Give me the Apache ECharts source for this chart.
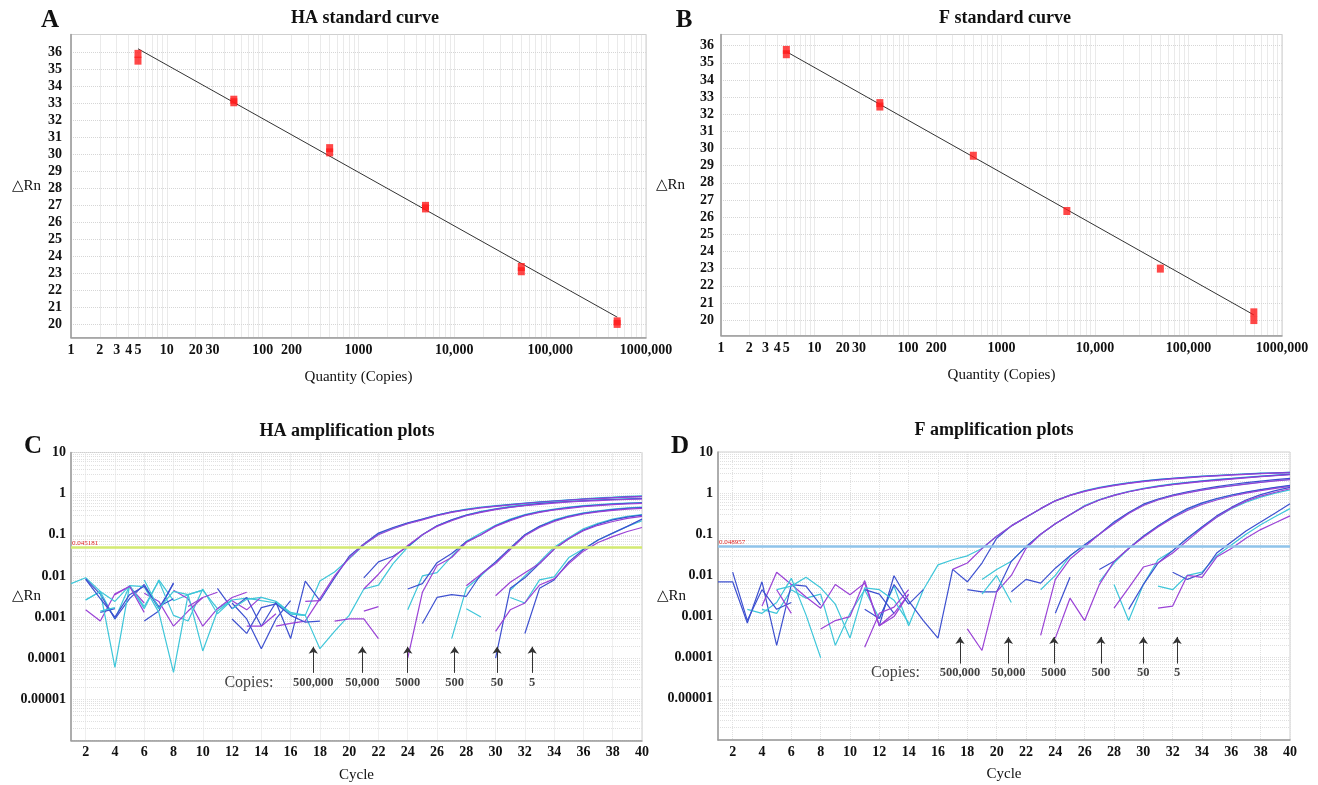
<!DOCTYPE html>
<html><head><meta charset="utf-8">
<script src="https://cdn.jsdelivr.net/npm/echarts@6/dist/echarts.min.js"></script>
<style>html,body{margin:0;padding:0;background:#fff}#c{width:1318px;height:785px}</style>
</head><body><div id="c"></div>
<script>
const _ = null;
// ---- Panel A: HA standard curve ----
const haQty = [5,5,50,50,500,500,5000,5000,50000,50000,500000,500000];
const haCt  = [35.9,35.5,33.2,33.05,30.35,30.1,26.95,26.8,23.35,23.1,20.15,20.0];
const haFitQty = [5,500000];
const haFitCt  = [36.2,20.4];
// ---- Panel B: F standard curve ----
const fQty = [5,5,50,50,500,5000,50000,500000,500000];
const fCt  = [35.75,35.5,32.65,32.45,29.58,26.36,23.0,20.45,20.0];
const fFitQty = [5,500000];
const fFitCt  = [35.65,20.3];
// ---- tick labels ----
const ctTicks = [20,21,22,23,24,25,26,27,28,29,30,31,32,33,34,35,36];
const qtyLabels = [1,2,3,4,5,10,20,30,100,200,1000,10000,100000,1000000];
const cycles = [1,2,3,4,5,6,7,8,9,10,11,12,13,14,15,16,17,18,19,20,21,22,23,24,25,26,27,28,29,30,31,32,33,34,35,36,37,38,39,40];
const cycleLabels = [2,4,6,8,10,12,14,16,18,20,22,24,26,28,30,32,34,36,38,40];
const rnLabels = [10,1,0.1,0.01,0.001,0.0001,0.00001];
// ---- thresholds & annotations ----
const haThreshold = 0.045181;
const fThreshold = 0.048957;
const copyLabels = ['500,000','50,000','5000','500','50','5'];
const haArrowCycles = [17.55,20.9,24.0,27.2,30.1,32.5];
const fArrowCycles  = [17.5,20.8,23.9,27.1,30.0,32.3];

// ---- Panel C: HA amplification (cycles 1..40) ----
const haA1=[.0065,.009,.0042,.0009,.0058,.0016,.008,.0025,.0035,.0045, .0016,.0026,.0029,.0025,.0022,.0012,.0011,.0075,.0125,.026, .056,.105,.145,.19,.24,.30,.36,.42,.47,.51, .55,.59,.63,.67,.71,.75,.79,.82,.86,.89];
const haB1=[_,.0085,.0036,.0009,.0028,.0062,.0016,.0065,_,_, .005,.0016,.003,.0006,.0023,.0003,.0075,.0025,.009,.03, .06,.11,.15,.195,.24,.30,.36,.41,.46,.50, .54,.58,.62,.66,.70,.74,.77,.80,.83,.86];
const haC1=[_,.0015,.0008,.0037,.0055,.0022,_,.0045,.0028,.0006, .0016,.003,.004,_,.0006,.0007,.0008,.0028,.01,.027, .058,.1,.14,.185,.23,.29,.35,.40,.45,.49, .53,.57,.61,.65,.69,.73,.76,.79,.82,.85];
const haA2=[_,.0026,.0042,.0024,.0058,.0018,.0075,.0011,.0008,.0048, .0012,.0026,_,_,.0024,.0013,.0011,.00017,.00045,.0011, .0048,.006,.02,.05,.1,.165,.23,.30,.37,.43, .49,.54,.58,.62,.65,.68,.71,.73,.75,.77];
const haB2=[_,_,.0013,.0016,_,.0008,.0014,.0068,_,_, _,.0009,.0004,.0017,.0021,.0011,.00075,.0008,_,_, .009,.022,.03,.052,.1,.165,.23,.30,.36,.42, .47,.52,.57,.61,.64,.67,.70,.72,.74,.76];
const haC2=[_,_,_,.0035,_,.0038,.0024,.0006,.0014,.003, .004,_,.0006,.0006,.0012,_,.0024,.0025,_,_, .0048,.011,.028,.055,.1,.16,.22,.29,.35,.41, .46,.51,.55,.59,.63,.66,.68,.70,.72,.74];
const haA3=[_,.0026,.0042,.00006,.0058,.0055,.0013,.000045,.0035,.00015, .0014,.0026,_,_,_,_,_,_,_,_, _,_,_,.0015,.01,.012,.03,.07,.11,.17, .24,.31,.37,.42,.47,.51,.54,.57,.59,.61];
const haB3=[_,.0082,.0028,.001,.0035,.0056,.0018,.0028,_,_, _,.0022,.0009,.00017,.0009,.0025,_,_,_,_, _,_,_,.0048,.0065,.021,.035,.068,.1,.165, .23,.30,.36,.41,.46,.50,.53,.56,.58,.60];
const haC3=[_,_,_,.0035,.0056,.0013,_,_,.0018,.003, _,.0025,.0015,.0031,_,.0021,_,_,_,_, _,_,_,.0001,.004,.018,.028,.065,.1,.16, .22,.29,.35,.40,.44,.48,.51,.54,.56,.58];
const haA4=[_,_,.0014,.0017,_,.008,.0016,.0042,.0035,.0045, _,.0016,.0027,.003,.0024,.0012,.0011,_,_,_, _,_,_,_,_,_,.0003,.005,.01,.022, .045,.1,.16,.23,.29,.34,.38,.42,.45,.47];
const haB4=[_,_,_,_,_,_,_,_,_,_, _,_,_,_,_,_,_,_,_,_, _,_,_,_,.0007,.003,.0035,.0032,.011,.022, .048,.1,.16,.22,.28,.33,.37,.41,.44,.46];
const haC4=[_,_,_,_,_,_,_,_,_,_, _,_,_,_,_,_,_,_,.0008,.0009, .0009,.0003,_,_,_,_,_,.0058,.011,.02, .044,.095,.15,.21,.27,.32,.36,.39,.42,.44];
const haA5=[_,_,_,_,_,_,_,_,_,_, _,_,_,_,_,_,_,_,_,_, _,_,_,_,_,_,_,.0016,.001,_, .0045,.01,.022,.05,.085,.14,.19,.24,.28,.31];
const haB5=[_,_,_,_,_,_,_,_,_,_, _,_,_,_,_,_,_,_,_,_, _,_,_,_,_,_,_,_,_,.0001, .005,.009,.02,.045,.08,.13,.18,.23,.27,.30];
const haC5=[_,_,_,_,_,_,_,_,_,_, _,_,_,_,_,_,_,_,_,_, .0014,.0018,_,_,_,_,_,_,_,.0033, .007,.012,.02,.045,.08,.125,.17,.21,.25,.28];
const haA6=[_,_,_,_,_,_,_,_,_,_, _,_,_,_,_,_,_,_,_,_, _,_,_,_,_,_,_,_,_,_, .003,.0022,.008,.0095,.028,.045,.075,.11,.16,.22];
const haB6=[_,_,_,_,_,_,_,_,_,_, _,_,_,_,_,_,_,_,_,_, _,_,_,_,_,_,_,_,_,_, _,.0004,.005,.008,.022,.044,.075,.11,.16,.24];
const haC6=[_,_,_,_,_,_,_,_,_,_, _,_,_,_,_,_,_,_,_,_, _,_,_,_,_,_,_,_,_,.00045, .0015,.0022,.006,.0085,.02,.04,.065,.09,.12,.15];

// ---- Panel D: F amplification (cycles 1..40) ----
const fA1=[_,_,_,.0015,.0012,.0045,.0028,.0035,.0002,.0012, .0045,.0009,.0055,.0006,.0045,.018,.024,.03,.045,.09, .16,.26,.42,.66,.9,1.15,1.38,1.6,1.8,1.98, 2.15,2.3,2.45,2.6,2.72,2.84,2.95,3.05,3.12,3.2];
const fB1=[.007,.007,.0007,.007,.0002,.006,.0055,.0019,_,_, _,.0006,.0098,.0024,.0008,.0003,.014,.007,.02,.08, .16,.26,.42,.65,.88,1.12,1.35,1.56,1.76,1.95, 2.12,2.28,2.42,2.56,2.68,2.8,2.92,3.02,3.1,3.18];
const fC1=[_,_,_,.0018,.012,.006,.003,.0016,.006,.0034, .0065,.0006,.001,.0035,_,_,.014,.02,.045,.09, .16,.26,.42,.65,.88,1.1,1.32,1.52,1.72,1.9, 2.06,2.22,2.36,2.5,2.62,2.74,2.86,2.96,3.05,3.12];
const fA2=[_,_,.0015,.0012,.0022,.0085,.0011,.0001,_,_, _,_,_,_,_,_,_,_,.008,.014, .022,.05,.1,.18,.3,.5,.7,.9,1.1,1.3, 1.5,1.68,1.84,2.0,2.15,2.3,2.45,2.6,2.75,2.9];
const fB2=[_,.012,.0008,.0045,.0015,.0022,_,_,_,_, .0015,.0009,.006,.002,.0045,_,_,.0045,.004,.004, .022,.05,.1,.18,.3,.48,.68,.88,1.08,1.28, 1.46,1.64,1.8,1.96,2.1,2.25,2.4,2.55,2.7,2.85];
const fC2=[_,_,_,_,.0045,.0012,_,.0005,.0008,.001, .0075,.0006,.0012,.0035,_,_,_,.0005,.00015,.004, .01,.045,.1,.18,.3,.48,.68,.88,1.08,1.26, 1.44,1.6,1.76,1.9,2.05,2.2,2.35,2.5,2.65,2.8];
const fA3=[_,_,_,_,.0045,.0055,.009,.005,.002,.0003, .005,.0045,.0025,.0007,_,_,_,_,.0035,.01, .0022,_,.0045,.01,.03,.055,.1,.19,.33,.52, .7,.88,1.04,1.2,1.36,1.52,1.68,1.84,2.0,2.15];
const fB3=[_,_,_,_,_,_,_,_,_,_, .0045,.0035,.0012,_,_,_,_,_,_,_, .004,.008,.0065,.015,.03,.056,.1,.2,.34,.54, .72,.9,1.08,1.26,1.44,1.62,1.8,1.96,2.12,2.28];
const fC3=[_,_,_,_,_,_,_,_,_,_, .00018,.0012,.0017,.0045,_,_,_,_,_,_, _,_,.00035,.008,.025,.05,.1,.18,.32,.5, .68,.86,1.02,1.18,1.34,1.5,1.66,1.82,1.98,2.14];
const fA4=[_,_,_,_,_,_,_,_,_,_, _,_,_,_,_,_,_,_,_,_, _,_,_,_,_,_,.007,.02,.045,.09, .16,.26,.4,.56,.72,.88,1.04,1.2,1.36,1.5];
const fB4=[_,_,_,_,_,_,_,_,_,_, _,_,_,_,_,_,_,_,_,_, _,_,_,.0012,.009,_,.014,.022,.045,.09, .16,.27,.42,.58,.74,.9,1.06,1.22,1.38,1.55];
const fC4=[_,_,_,_,_,_,_,_,_,_, _,_,_,_,_,_,_,_,_,_, _,_,_,.0003,.0028,.0008,.006,.022,.045,.085, .15,.25,.38,.53,.68,.84,1.0,1.15,1.3,1.45];
const fA5=[_,_,_,_,_,_,_,_,_,_, _,_,_,_,_,_,_,_,_,_, _,_,_,_,_,_,_,.006,.0008,.006, .024,.04,.08,.15,.26,.42,.6,.8,1.0,1.2];
const fB5=[_,_,_,_,_,_,_,_,_,_, _,_,_,_,_,_,_,_,_,_, _,_,_,_,_,_,_,_,.0015,.006, .02,.04,.08,.15,.28,.45,.68,.92,1.15,1.38];
const fC5=[_,_,_,_,_,_,_,_,_,_, _,_,_,_,_,_,_,_,_,_, _,_,_,_,_,_,_,.0016,.005,.016, .02,.035,.07,.14,.26,.43,.64,.85,1.05,1.28];
const fA6=[_,_,_,_,_,_,_,_,_,_, _,_,_,_,_,_,_,_,_,_, _,_,_,_,_,_,_,_,_,_, .0055,.0045,.01,.012,.03,.055,.1,.17,.27,.42];
const fB6=[_,_,_,_,_,_,_,_,_,_, _,_,_,_,_,_,_,_,_,_, _,_,_,_,_,_,_,_,_,_, _,.012,.008,.011,.035,.065,.12,.2,.33,.55];
const fC6=[_,_,_,_,_,_,_,_,_,_, _,_,_,_,_,_,_,_,_,_, _,_,_,_,_,_,_,_,_,_, .0016,.0018,.01,.009,.028,.045,.08,.13,.19,.28];

const haCurves=[haA1,haB1,haC1,haA2,haB2,haC2,haA3,haB3,haC3,haA4,haB4,haC4,haA5,haB5,haC5,haA6,haB6,haC6];
const fCurves =[fA1,fB1,fC1,fA2,fB2,fC2,fA3,fB3,fC3,fA4,fB4,fC4,fA5,fB5,fC5,fA6,fB6,fC6];
const ampColors=['#3ec6d9','#3d50d0','#9a42d6'];

const SERIF='"Liberation Serif","DejaVu Serif",serif';
// gridline positions (layout only)
function logGridValues(lo, hi){const out=[];for(let e=lo;e<=hi;e++){for(let m=1;m<=9;m++){const v=Number((m*Math.pow(10,e)).toPrecision(3));if(v<=Math.pow(10,hi)+1e-12)out.push(v);}}return out;}
const qtyGrid=logGridValues(0,6);
const rnGrid=logGridValues(-6,1);

function qtyFmt(v){const r=Math.round(v);const m={10000:'10,000',100000:'100,000',1000000:'1000,000'};return m[r]||String(r);}
function rnFmt(v){const r=Number(v.toPrecision(3));return r>=1?String(r):r.toFixed(Math.round(-Math.log10(r)));}

const tickFont={fontFamily:SERIF,fontWeight:'bold',fontSize:14,color:'#111'};
const axisLineStyle={lineStyle:{color:'#9a9a9a',width:1.5},onZero:false};
const gridLineStd={show:true,lineStyle:{color:'#d6d6d6',type:'dotted',width:1}};
const gridLineAmp={show:true,lineStyle:{color:'#e0e0e0',type:'dotted',width:1}};
const nameFont={fontFamily:SERIF,fontSize:15,color:'#111'};

function stdX(grid){return {type:'log',logBase:10,gridIndex:grid,min:1,max:1000000,axisLine:axisLineStyle,
  axisTick:{show:false,customValues:qtyGrid},splitLine:gridLineStd,
  axisLabel:Object.assign({customValues:qtyLabels,formatter:qtyFmt,margin:6},tickFont),
  name:'Quantity (Copies)',nameLocation:'middle',nameGap:32,nameMoveOverlap:false,nameTextStyle:nameFont};}
function stdY(grid,min,max,gap,pad,margin){return {type:'value',gridIndex:grid,min:min,max:max,axisLine:Object.assign({show:true},axisLineStyle),
  axisTick:{show:false,customValues:ctTicks},splitLine:gridLineStd,
  axisLabel:Object.assign({customValues:ctTicks,margin:margin},tickFont),
  name:'△Rn',nameLocation:'middle',nameRotate:0,nameGap:gap,nameMoveOverlap:false,nameTextStyle:Object.assign({padding:[0,0,pad,0]},nameFont)};}
function ampX(grid){return {type:'value',gridIndex:grid,min:1,max:40,axisLine:axisLineStyle,
  axisTick:{show:false,customValues:cycleLabels},splitLine:gridLineAmp,
  axisLabel:Object.assign({customValues:cycleLabels,margin:5},tickFont),
  name:'Cycle',nameLocation:'middle',nameGap:27,nameMoveOverlap:false,nameTextStyle:nameFont};}
function ampY(grid,gap,pad){return {type:'log',logBase:10,gridIndex:grid,min:0.000001,max:10,axisLine:Object.assign({show:true},axisLineStyle),
  axisTick:{show:false,customValues:rnGrid},splitLine:gridLineAmp,
  axisLabel:Object.assign({customValues:rnLabels,formatter:rnFmt,margin:5},tickFont),
  name:'△Rn',nameLocation:'middle',nameRotate:0,nameGap:gap,nameMoveOverlap:false,nameTextStyle:Object.assign({padding:[0,0,pad,0]},nameFont)};}

const series=[];
function stdSeries(idx,qty,ct,fq,fc){
  series.push({type:'line',xAxisIndex:idx,yAxisIndex:idx,data:fq.map((q,i)=>[q,fc[i]]),showSymbol:false,
    lineStyle:{color:'#333',width:1},z:2,silent:true});
  series.push({type:'scatter',xAxisIndex:idx,yAxisIndex:idx,data:qty.map((q,i)=>[q,ct[i]]),symbol:'rect',symbolSize:[7,8],
    itemStyle:{color:'#ff1a1a'},z:3,silent:true});
}
stdSeries(0,haQty,haCt,haFitQty,haFitCt);
stdSeries(1,fQty,fCt,fFitQty,fFitCt);

let warn='';
function ampSeries(idx,curves,thr,thrLabel,thrColor,arrows,arrowLo,arrowHi,labelY,copiesX){
  curves.forEach((arr,k)=>{
    if(arr.length!==40) warn+=' len'+idx+'-'+k+'='+arr.length;
    series.push({type:'line',xAxisIndex:idx,yAxisIndex:idx,showSymbol:false,connectNulls:false,silent:true,
      data:cycles.map((c,i)=>[c,arr[i]==null?'-':arr[i]]),
      lineStyle:{color:ampColors[k%3],width:1.2},z:3});
  });
  const md=[{yAxis:thr,lineStyle:{color:thrColor,width:2.5,type:'solid'},
    label:{show:true,position:'insideStartTop',formatter:thrLabel,color:'#e02020',fontSize:7,fontFamily:SERIF,distance:1}}];
  arrows.forEach(c=>md.push([{coord:[c,arrowLo],symbol:'none'},{coord:[c,arrowHi],symbol:'arrow',symbolSize:7}]));
  const ld=copyLabels.map((t,i)=>({name:t,value:[arrows[i],labelY]}));
  ld.push({name:'Copies:',value:[copiesX,labelY],label:{fontSize:16,fontWeight:'normal'}});
  series.push({type:'scatter',xAxisIndex:idx,yAxisIndex:idx,symbolSize:0,data:ld,silent:true,z:4,
    label:{show:true,position:'inside',formatter:'{b}',fontFamily:SERIF,fontSize:12.5,fontWeight:'bold',color:'#111'},
    markLine:{silent:true,animation:false,symbol:['none','none'],symbolSize:7,
      lineStyle:{color:'#333',width:1,type:'solid'},label:{show:false},data:md}});
}
ampSeries(2,haCurves,haThreshold,'0.045181','#d3ea72',haArrowCycles,0.000044,0.00019,0.0000247,13.15);
ampSeries(3,fCurves,fThreshold,'0.048957','#8fc3ea',fArrowCycles,0.000072,0.00032,0.000042,13.1);

const titleStyle={fontFamily:SERIF,fontWeight:'bold',fontSize:18,color:'#111'};
const gridBase={show:true,borderColor:'#cfcfcf',borderWidth:1,containLabel:false,outerBoundsMode:'none'};
const option={
  animation:false,
  backgroundColor:'#fff',
  title:[
    {text:'HA standard curve',left:365,top:9,textAlign:'center',padding:0,textStyle:titleStyle},
    {text:'F standard curve',left:1005,top:9,textAlign:'center',padding:0,textStyle:titleStyle},
    {text:'HA amplification plots',left:347,top:422,textAlign:'center',padding:0,textStyle:titleStyle},
    {text:'F amplification plots',left:994,top:421,textAlign:'center',padding:0,textStyle:titleStyle}
  ],
  grid:[
    Object.assign({left:71,top:34.5,width:575,height:303},gridBase),
    Object.assign({left:721,top:34.5,width:561,height:301},gridBase),
    Object.assign({left:71,top:452.5,width:571,height:288},gridBase),
    Object.assign({left:718,top:452,width:572,height:288},gridBase)
  ],
  xAxis:[stdX(0),stdX(1),ampX(2),ampX(3)],
  yAxis:[stdY(0,19.2,37.04,30,28,9),stdY(1,19.1,36.65,36,24,7),ampY(2,30,7),ampY(3,32,6)],
  graphic:[
    {type:'text',x:50,y:21,style:{text:'A',font:'bold 25px '+SERIF,fill:'#111',align:'center',verticalAlign:'middle'}},
    {type:'text',x:684,y:21,style:{text:'B',font:'bold 25px '+SERIF,fill:'#111',align:'center',verticalAlign:'middle'}},
    {type:'text',x:33,y:447,style:{text:'C',font:'bold 25px '+SERIF,fill:'#111',align:'center',verticalAlign:'middle'}},
    {type:'text',x:680,y:447,style:{text:'D',font:'bold 25px '+SERIF,fill:'#111',align:'center',verticalAlign:'middle'}}
  ],
  series:series
};
if(warn) option.graphic.push({type:'text',x:400,y:400,style:{text:warn,font:'20px sans-serif',fill:'red'}});
echarts.init(document.getElementById('c'),null,{renderer:'canvas'}).setOption(option);
</script></body></html>
